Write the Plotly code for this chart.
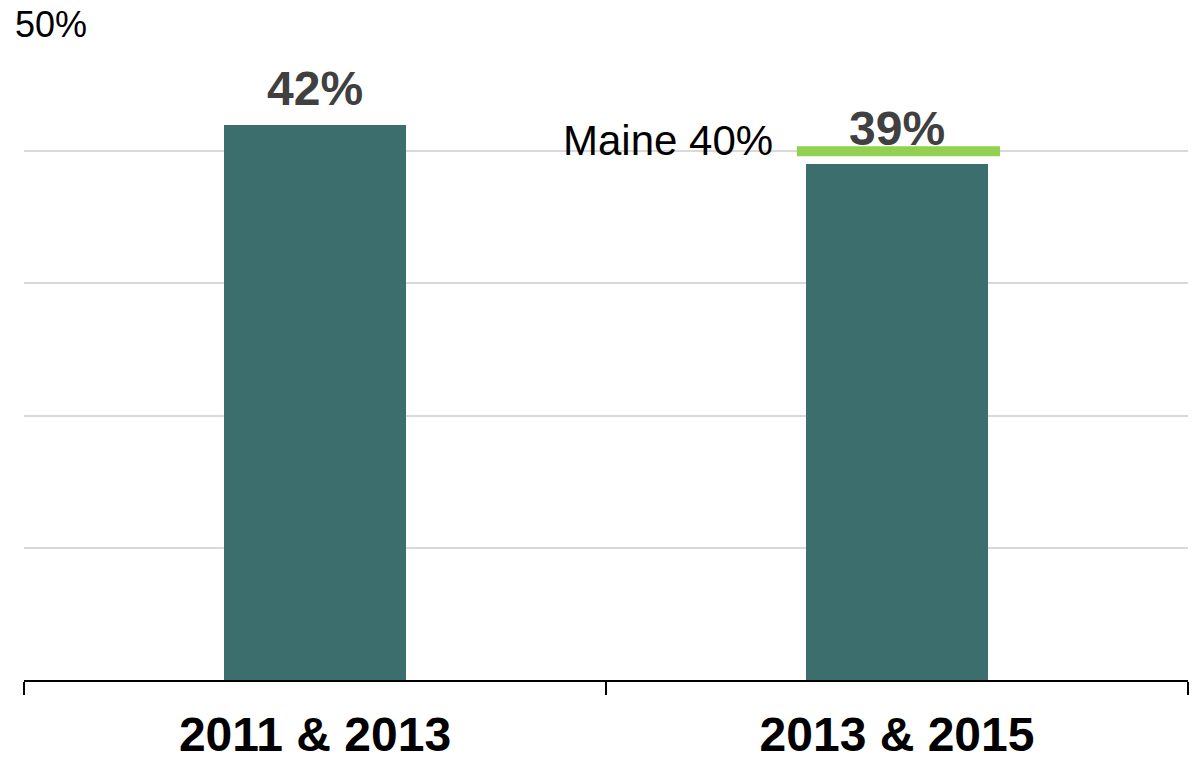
import plotly.graph_objects as go

# Survey periods and percentages
periods = ["2011 & 2013", "2013 & 2015"]
values = [42, 39]
value_labels = ["42%", "39%"]

# State benchmark
state_name = "Maine"
state_value = 40

# Y axis scale
y_max = 50
y_step = 10

FONT = "Liberation Sans, Arial, sans-serif"
BAR_COLOR = "#3D6E6E"
LABEL_COLOR = "#404040"
STATE_COLOR = "#92D050"

fig = go.Figure()

fig.add_trace(go.Bar(
    x=periods,
    y=values,
    width=0.313,
    marker=dict(color=BAR_COLOR, line=dict(width=0)),
    hoverinfo="skip",
    showlegend=False,
))

# Maine benchmark line over the second bar (category index 1)
fig.add_shape(
    type="line", xref="x", yref="y",
    x0=1 - 0.172, x1=1 + 0.177, y0=state_value, y1=state_value,
    line=dict(color=STATE_COLOR, width=10),
    layer="above",
)

annotations = []
for p, v, lab in zip(periods, values, value_labels):
    annotations.append(dict(
        x=p, y=v, xref="x", yref="y",
        text=f"<b>{lab}</b>", showarrow=False,
        xanchor="center", yanchor="middle", yshift=36,
        font=dict(family=FONT, size=48, color=LABEL_COLOR),
    ))

annotations.append(dict(
    x=1 - 0.21, y=state_value, xref="x", yref="y",
    text=f"{state_name} {state_value}%", showarrow=False,
    xanchor="right", yanchor="middle", yshift=11,
    font=dict(family=FONT, size=42, color="black"),
))

# Top of scale label
annotations.append(dict(
    x=0, y=y_max, xref="paper", yref="y",
    text=f"{y_max}%", showarrow=False,
    xanchor="left", yanchor="middle", xshift=-11, yshift=-5,
    font=dict(family=FONT, size=36, color="black"),
))

fig.update_layout(
    width=1192, height=764,
    margin=dict(l=24, r=4, t=19, b=84),
    paper_bgcolor="white", plot_bgcolor="white",
    bargap=0,
    annotations=annotations,
    xaxis=dict(
        type="category",
        range=[-0.5, len(periods) - 0.5],
        ticktext=[f"<b>{p}</b>" for p in periods],
        tickvals=periods,
        tickson="boundaries",
        ticks="outside", ticklen=13, tickwidth=2, tickcolor="black",
        ticklabelstandoff=11,
        showline=True, linecolor="black", linewidth=2,
        showgrid=False, zeroline=False,
        tickfont=dict(family=FONT, size=48, color="black"),
    ),
    yaxis=dict(
        range=[0, y_max],
        tickmode="array",
        tickvals=list(range(y_step, y_max + 1, y_step)),
        showticklabels=False,
        showgrid=True, gridcolor="#D9D9D9", gridwidth=2,
        zeroline=False, showline=False, ticks="",
    ),
)

fig.write_html("out.html")
